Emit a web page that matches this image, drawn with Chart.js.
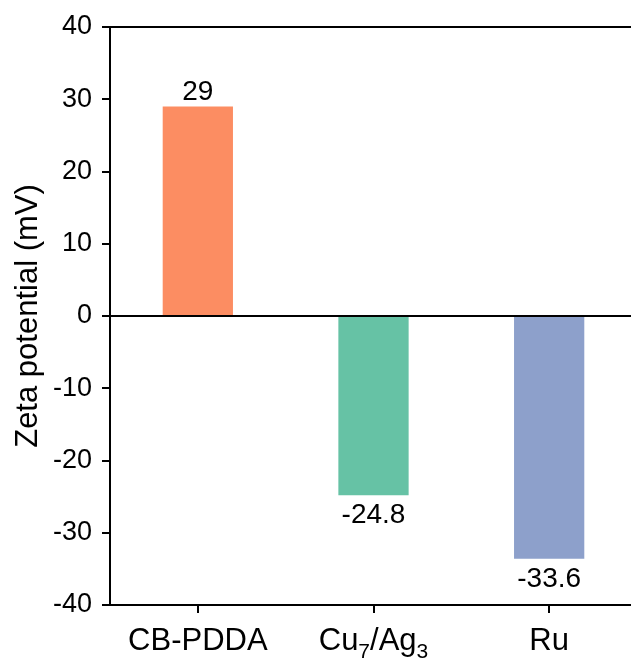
<!DOCTYPE html>
<html>
<head>
<meta charset="utf-8">
<script src="https://cdn.jsdelivr.net/npm/chart.js@4"></script>
<style>
html,body{margin:0;padding:0;background:#fff;overflow:hidden;}
canvas{display:block;}
</style>
</head>
<body>
<canvas id="c" width="637" height="662"></canvas>
<script>
const categories = ['CB-PDDA', 'Cu7/Ag3', 'Ru'];
const zetaValues = [29, -24.8, -33.6];
const valueLabels = ['29', '-24.8', '-33.6'];
const barColors = ['#FC8D62', '#66C2A5', '#8DA0CB'];
const yMin = -40, yMax = 40, yStep = 10;
const yTitle = 'Zeta potential (mV)';

const FONT = '"Liberation Sans", Arial, sans-serif';

const labelPlugin = {
  id: 'labels',
  afterDraw(chart) {
    const ctx = chart.ctx;
    const xs = chart.scales.x;
    const meta = chart.getDatasetMeta(0);
    ctx.save();
    ctx.fillStyle = '#000';
    // value labels
    ctx.font = '28px ' + FONT;
    ctx.textAlign = 'center';
    ctx.textBaseline = 'alphabetic';
    meta.data.forEach((bar, i) => {
      const v = zetaValues[i];
      ctx.fillText(valueLabels[i], bar.x, v >= 0 ? bar.y - 6 : bar.y + 28);
    });
    // category labels with subscripts
    const base = xs.bottom - 12;
    categories.forEach((cat, i) => {
      const x = xs.getPixelForTick(i);
      const parts = cat.split(/(\d+)/).filter(s => s.length);
      const segs = parts.map(p => ({ t: p, sub: /^\d+$/.test(p) }));
      let total = 0;
      segs.forEach(s => {
        ctx.font = (s.sub ? '21px ' : '31px ') + FONT;
        s.w = ctx.measureText(s.t).width;
        total += s.w;
      });
      let cx = x - total / 2;
      ctx.textAlign = 'left';
      segs.forEach(s => {
        ctx.font = (s.sub ? '21px ' : '31px ') + FONT;
        ctx.fillText(s.t, cx, s.sub ? base + 8 : base);
        cx += s.w;
      });
    });
    ctx.restore();
  }
};

new Chart(document.getElementById('c'), {
  type: 'bar',
  data: {
    labels: categories,
    datasets: [{
      data: zetaValues,
      backgroundColor: barColors,
      borderWidth: 0,
      barPercentage: 0.4,
      categoryPercentage: 1.0
    }]
  },
  options: {
    responsive: false,
    animation: false,
    devicePixelRatio: 1,
    layout: { padding: { top: 27, right: 0, left: 0, bottom: 0 } },
    plugins: { legend: { display: false }, tooltip: { enabled: false } },
    scales: {
      x: {
        type: 'category',
        offset: true,
        border: { display: true, color: '#000', width: 2 },
        grid: {
          display: true, offset: false, drawOnChartArea: false,
          color: '#000', tickColor: '#000', tickLength: 8, lineWidth: 2
        },
        ticks: { callback: () => '', font: { size: 28, family: FONT } },
        afterFit(scale) { scale.height = 57; }
      },
      y: {
        min: yMin, max: yMax, z: 1,
        border: { display: true, color: '#000', width: 2 },
        grid: {
          display: true,
          color: c => (c.tick && (c.tick.value === 0 || c.tick.value === yMax)) ? '#000' : 'rgba(0,0,0,0)',
          lineWidth: 2,
          tickColor: '#000', tickLength: 8
        },
        ticks: {
          stepSize: yStep, color: '#000', padding: 10,
          font: { size: 27, family: FONT }
        },
        title: {
          display: true, text: yTitle, color: '#000',
          font: { size: 31, family: FONT }, padding: { top: 10, bottom: 2 }
        },
        afterFit(scale) { scale.width = 110; }
      }
    }
  },
  plugins: [labelPlugin]
});
</script>
</body>
</html>
